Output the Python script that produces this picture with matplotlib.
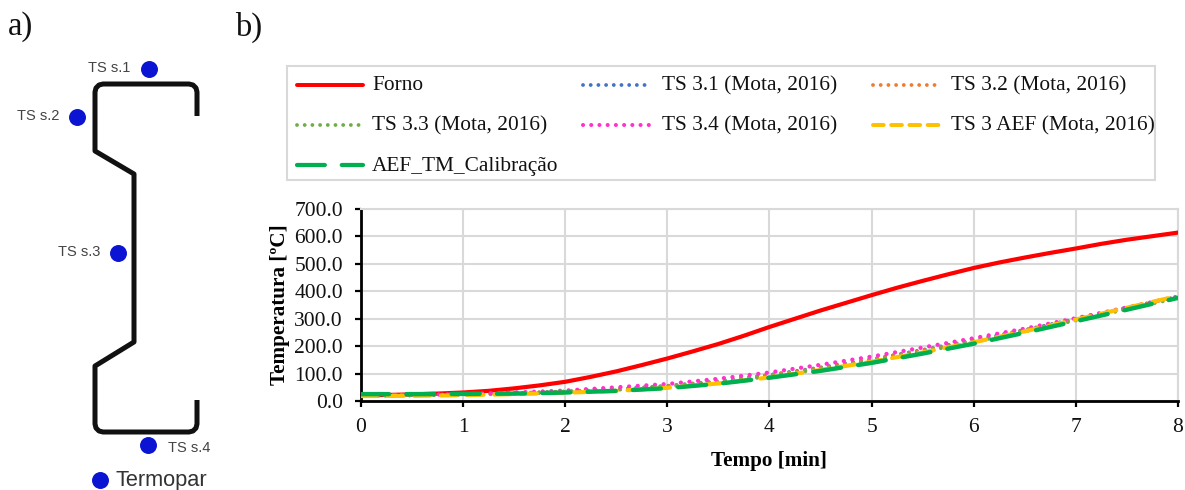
import matplotlib
matplotlib.use("Agg")
import matplotlib.pyplot as plt
from matplotlib.lines import Line2D

W, H = 1185, 490
SERIF = ["Liberation Serif", "DejaVu Serif"]
SANS = ["Liberation Sans", "DejaVu Sans"]

# Panel b data
forno_time = [0, 0.25, 0.5, 0.75, 1, 1.25, 1.5, 1.75, 2, 2.25, 2.5, 2.75, 3, 3.25, 3.5, 3.75, 4,
              4.25, 4.5, 4.75, 5, 5.25, 5.5, 5.75, 6, 6.25, 6.5, 6.75, 7, 7.25, 7.5, 7.75, 8]
forno = [20, 22, 24, 27, 31, 37, 46, 57, 70, 88, 108, 131, 155, 181, 208, 238, 270,
         300, 330, 358, 386, 413, 438, 462, 485, 505, 523, 540, 556, 573, 588, 601, 614]
time_min = [0, 0.5, 1, 1.5, 2, 2.5, 3, 3.5, 4, 4.5, 5, 5.5, 6, 6.5, 7, 7.5, 8]
ts31 = [20, 21, 24, 28, 34, 43, 55, 72, 95, 122, 152, 186, 222, 259, 299, 340, 380]
ts32 = [20, 21, 24, 28, 34, 42, 54, 71, 93, 120, 150, 184, 220, 257, 297, 338, 379]
ts33 = [20, 21, 24, 28, 33, 41, 52, 68, 90, 116, 146, 180, 216, 254, 294, 335, 376]
ts34 = [20, 22, 25, 31, 38, 50, 62, 81, 104, 132, 162, 195, 229, 264, 302, 341, 381]
ts3aef = [18, 19, 21, 25, 30, 37, 48, 64, 86, 113, 143, 177, 214, 254, 297, 340, 383]
aef_tm = [25, 25, 26, 27, 31, 37, 47, 63, 85, 110, 139, 173, 209, 249, 291, 333, 376]

x_ticks = [0, 1, 2, 3, 4, 5, 6, 7, 8]
y_ticks = [0, 100, 200, 300, 400, 500, 600, 700]
x_label = "Tempo [min]"
y_label = "Temperatura [ºC]"

# Panel a data (figure pixels)
profile_x = [197, 197, 196, 193, 189, 103, 99, 96, 95, 95, 134, 134, 95, 95, 96, 99, 103, 189, 193, 196, 197, 197]
profile_y = [116, 92, 88, 85, 84, 84, 85, 88, 92, 151, 174, 342, 366, 424, 428, 431, 432, 432, 431, 428, 424, 400]
sensor_x = [149, 77, 118, 148, 100]
sensor_y = [69, 117, 253, 445, 480]
sensor_labels = ["TS s.1", "TS s.2", "TS s.3", "TS s.4"]
label_x = [109, 38, 79, 189]
label_y = [68, 116, 252, 448]
legend_label = "Termopar"

fig = plt.figure(figsize=(W / 100, H / 100), dpi=100, facecolor="white")

# Panel a
a = fig.add_axes([0, 0, 1, 1], facecolor="none")
a.set_xlim(0, W)
a.set_ylim(H, 0)
a.axis("off")
a.plot(profile_x, profile_y, color="#111111", lw=3.6, solid_joinstyle="round", solid_capstyle="butt")
a.scatter(sensor_x, sensor_y, s=125, color="#0a14d2", zorder=3)
for lx, ly, t in zip(label_x, label_y, sensor_labels):
    a.text(lx, ly, t, fontsize=10.5, family=SANS, color="#444444", ha="center", va="center")
a.text(161, 480, legend_label, fontsize=15.7, family=SANS, color="#333333", ha="center", va="center")
a.text(8, 27, "a)", fontsize=23.5, family=SERIF, color="#111111", ha="left", va="center")
a.text(235, 27, "b)", fontsize=23.5, family=SERIF, color="#111111", ha="left", va="center")

# Panel b
L, R, T, B = 361, 1178, 209, 401
ax = fig.add_axes([L / W, 1 - B / H, (R - L) / W, (B - T) / H])
ax.set_xlim(0, 8)
ax.set_ylim(0, 700)
ax.set_xticks(x_ticks)
ax.set_yticks(y_ticks)
ax.set_yticklabels([f"{v:.1f}" for v in y_ticks])
ax.grid(True, color="#d9d9d9", lw=1.5)
ax.set_axisbelow(True)
for s in ("top", "right"):
    ax.spines[s].set_color("#d9d9d9")
    ax.spines[s].set_linewidth(1.5)
for s in ("left", "bottom"):
    ax.spines[s].set_color("black")
    ax.spines[s].set_linewidth(2.0)
ax.tick_params(axis="both", direction="out", length=4, width=1.6, labelsize=15.5, color="black")
ax.tick_params(axis="y", pad=9)
ax.tick_params(axis="x", pad=8)
for t in ax.get_xticklabels() + ax.get_yticklabels():
    t.set_family(SERIF)
    t.set_color("#111111")
ax.set_xlabel(x_label, family=SERIF, fontsize=15.2, fontweight="bold", labelpad=10.5)
ax.set_ylabel(y_label, family=SERIF, fontsize=15.2, fontweight="bold", labelpad=3)

dot = (0, (0.01, 2.0))
lines = [
    (forno_time, forno, "#ff0000", "-", 3.0, "Forno"),
    (time_min, ts31, "#4472c4", dot, 2.9, "TS 3.1 (Mota, 2016)"),
    (time_min, ts32, "#ed7d31", dot, 2.9, "TS 3.2 (Mota, 2016)"),
    (time_min, ts33, "#70ad47", dot, 2.9, "TS 3.3 (Mota, 2016)"),
    (time_min, ts34, "#ff33cc", dot, 3.1, "TS 3.4 (Mota, 2016)"),
    (time_min, ts3aef, "#ffc000", (0, (3.8, 2.6)), 3.0, "TS 3 AEF (Mota, 2016)"),
    (time_min, aef_tm, "#00b050", (0, (6.3, 3.9)), 3.2, "AEF_TM_Calibração"),
]
for xs, ys, c, ls, lw, name in lines:
    ax.plot(xs, ys, color=c, ls=ls, lw=lw, clip_on=True, dash_capstyle="round", zorder=3)

# Legend frame and entries, in figure pixels
a.add_patch(plt.Rectangle((287, 66), 868, 114, facecolor="white", edgecolor="#d9d9d9", lw=1.5))
col_x = [297, 583, 873]
text_x = [372, 662, 951]
row_y = [85, 125, 165]
leg_styles = {"#ffc000": (0, (2.7, 1.9)), "#00b050": (0, (6.6, 4.0))}
for i, (xs, ys, c, ls, lw, name) in enumerate(lines):
    col, row = i % 3, i // 3
    x0 = col_x[col]
    y0 = row_y[row]
    a.add_line(Line2D([x0, x0 + 66], [y0, y0], color=c, ls=leg_styles.get(c, ls), lw=lw * 0.95,
                      dash_capstyle="round", solid_capstyle="round"))
    a.text(text_x[col], y0 + 1, name, fontsize=15.4, family=SERIF, color="#111111", ha="left", va="center")

fig.savefig("out.png", dpi=100)
